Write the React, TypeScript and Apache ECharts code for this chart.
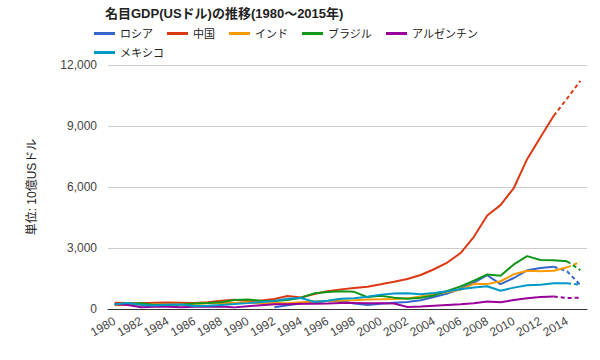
import React, { useEffect, useRef } from "react";
import * as echarts from "echarts";

const years = Array.from({ length: 36 }, (_, i) => String(1980 + i));

const russia: (number | null)[] = [
  null, null, null, null, null, null, null, null, null, null, null, null,
  85, 183, 276, 313, 392, 405, 271, 196, 260, 307, 345, 430, 591, 764, 990, 1300, 1661, 1223, 1525, 1905, 2017, 2079, 1857, 1176,
];
const china = [
  305, 290, 284, 306, 314, 310, 301, 327, 408, 457, 395, 415, 495, 640, 566, 736, 869, 965, 1032, 1097, 1215, 1344, 1477, 1671, 1955, 2286, 2752, 3552, 4600, 5110, 5950, 7370, 8450, 9500, 10350, 11220,
];
const india = [
  189, 196, 204, 222, 215, 236, 253, 283, 301, 301, 326, 274, 293, 284, 333, 366, 399, 423, 428, 466, 476, 493, 523, 618, 722, 834, 949, 1239, 1224, 1365, 1708, 1880, 1859, 1877, 2049, 2308,
];
const brazil = [
  235, 263, 281, 203, 209, 222, 268, 294, 331, 447, 462, 407, 390, 438, 558, 769, 840, 871, 844, 587, 655, 559, 508, 558, 669, 892, 1107, 1397, 1696, 1640, 2190, 2600, 2413, 2392, 2346, 1910,
];
const argentina = [
  230, 200, 90, 105, 115, 90, 110, 110, 125, 80, 140, 190, 230, 237, 258, 258, 272, 293, 299, 284, 284, 269, 100, 128, 165, 199, 233, 287, 364, 335, 440, 530, 585, 610, 540, 560,
];
const mexico = [
  228, 293, 194, 169, 206, 220, 151, 161, 201, 241, 289, 340, 398, 501, 540, 360, 411, 500, 526, 600, 707, 757, 772, 729, 782, 877, 975, 1053, 1120, 900, 1051, 1171, 1187, 1262, 1270, 1195,
];

const names = ["ロシア", "中国", "インド", "ブラジル", "アルゼンチン", "メキシコ"];
const colors = ["#3366cc", "#dc3912", "#ff9900", "#109618", "#990099", "#0099c6"];
const dataSets = [russia, china, india, brazil, argentina, mexico];
// index where the estimated (dashed) part begins
const dashFrom = [33, 33, 34, 34, 33, 34];

const FONT = "Arial, 'Liberation Sans', 'Noto Sans CJK JP', sans-serif";

export default function App() {
  const ref = useRef<HTMLDivElement>(null);
  useEffect(() => {
    if (!ref.current) return;
    const chart = echarts.init(ref.current, undefined, { renderer: "svg" });
    const solid = dataSets.map((d, i) => ({
      name: names[i],
      type: "line",
      data: d.map((v, j) => (j <= dashFrom[i] ? v : null)),
      showSymbol: false,
      symbol: "none",
      lineStyle: { width: 2, color: colors[i] },
      itemStyle: { color: colors[i] },
      z: 2 + i,
    }));
    const dashed = dataSets.map((d, i) => ({
      name: names[i],
      type: "line",
      data: d.map((v, j) => (j >= dashFrom[i] ? v : null)),
      showSymbol: false,
      symbol: "none",
      lineStyle: { width: 2, color: colors[i], type: [4, 3] },
      itemStyle: { color: colors[i] },
      z: 2 + i,
    }));
    const legendCommon = {
      left: 89,
      icon: "rect",
      itemWidth: 21,
      itemHeight: 3,
      itemGap: 14,
      textStyle: { fontSize: 11, color: "#222", fontFamily: FONT },
    };
    chart.setOption({
      animation: false,
      textStyle: { fontFamily: FONT },
      title: {
        text: "名目GDP(USドル)の推移(1980～2015年)",
        left: 100,
        top: 2,
        textStyle: { fontSize: 13, fontWeight: "bold", color: "#222", fontFamily: FONT },
      },
      legend: [
        { ...legendCommon, top: 23, data: names.slice(0, 5) },
        { ...legendCommon, top: 42, data: names.slice(5) },
      ],
      grid: { left: 108, right: 13, top: 65, bottom: 51 },
      xAxis: {
        type: "category",
        data: years,
        boundaryGap: true,
        axisLine: { lineStyle: { color: "#333", width: 1 } },
        axisTick: { show: false },
        axisLabel: {
          interval: 1,
          rotate: 30,
          fontSize: 12,
          color: "#444",
          margin: 11,
          fontFamily: FONT,
        },
      },
      yAxis: {
        type: "value",
        min: 0,
        max: 12000,
        interval: 3000,
        name: "単位: 10億USドル",
        nameLocation: "middle",
        nameGap: 70,
        nameTextStyle: { fontSize: 12, color: "#222", fontFamily: FONT },
        axisLine: { show: false },
        axisTick: { show: false },
        splitLine: { lineStyle: { color: "#cccccc", width: 1 } },
        axisLabel: {
          fontSize: 12,
          color: "#444",
          margin: 11,
          fontFamily: FONT,
          formatter: (v: number) => v.toLocaleString("en-US"),
        },
      },
      series: [...solid, ...dashed],
    });
    return () => chart.dispose();
  }, []);
  return (
    <div
      ref={ref}
      style={{ position: "fixed", left: 0, top: 0, width: 600, height: 360, background: "#fff" }}
    />
  );
}
